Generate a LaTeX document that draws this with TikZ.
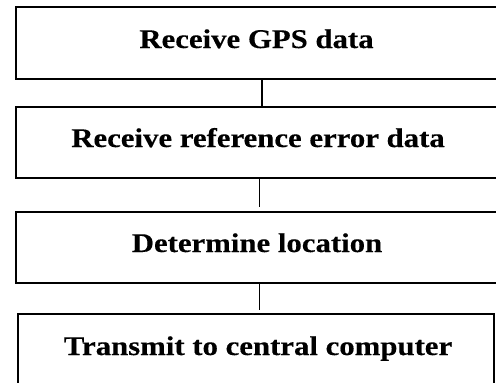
\documentclass[tikz,border=0pt]{standalone}
\usepackage{fontspec}
\setmainfont{Liberation Serif}
\newfontfamily\boxfont[FakeStretch=1.14,FakeBold=0.3]{Liberation Serif}
\begin{document}
\begin{tikzpicture}[x=1pt,y=-1pt,
  box/.style={draw, line width=1.8pt, inner sep=0pt, outer sep=0pt, anchor=north west, minimum width=481pt},
  lastbox/.style={draw, line width=1.1pt, inner sep=0pt, outer sep=0pt, anchor=north west},
  lbl/.style={font=\boxfont\bfseries\fontsize{27}{30}\selectfont, anchor=base, inner sep=0pt},
  conn/.style={line width=1.2pt}]
\useasboundingbox (0,0) rectangle (496,383);
\node[box, minimum height=72pt] (b1) at (16,7) {};
\node[box, minimum height=71pt] (b2) at (16,107) {};
\node[box, minimum height=71pt] (b3) at (16,212) {};
\node[lastbox, minimum width=476pt, minimum height=90pt] (b4) at (18,314) {};
\node[lbl] (t1) at (256.5,48) {Receive GPS data};
\node[lbl] (t2) at (258,147) {Receive reference error data};
\node[lbl] (t3) at (257,252) {Determine location};
\node[lbl] (t4) at (258,355) {Transmit to central computer};
\coordinate (c1) at (262,0);
\coordinate (c2) at (259.5,0);
\coordinate (c3) at (259.5,0);
\draw[conn] (b1.south -| c1) -- (b2.north -| c1);
\draw[conn] (b2.south -| c2) -- ([yshift=5pt]b3.north -| c2);
\draw[conn] (b3.south -| c3) -- ([yshift=4.5pt]b4.north -| c3);
\end{tikzpicture}
\end{document}
